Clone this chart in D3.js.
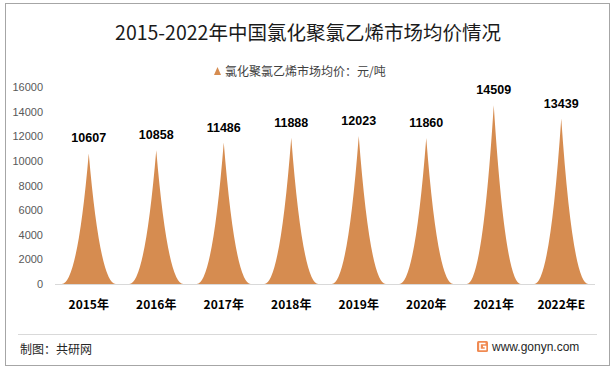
<!DOCTYPE html>
<html lang="zh">
  <head>
    <meta charset="UTF-8" />
    <title>2015-2022年中国氯化聚氯乙烯市场均价情况</title>
    <script src="https://cdnjs.cloudflare.com/ajax/libs/d3/7.8.5/d3.min.js"></script>
    <style>
      body {
        margin: 0;
        background: #fff;
      }
      text {
        font-family: "Noto Sans CJK SC", "Noto Sans", sans-serif;
      }
      .axis path,
      .axis line {
        display: none;
      }
      .y-axis text {
        font-size: 11px;
        fill: #595959;
        font-family: "Liberation Sans", "Noto Sans CJK SC", sans-serif;
      }
      .x-axis text {
        font-size: 12px;
        font-weight: bold;
        fill: #000;
      }
      .value-label {
        font-size: 12.5px;
        font-weight: bold;
        fill: #000;
        font-family: "Liberation Sans", sans-serif;
      }
    </style>
  </head>
  <body>
    <div id="chart"></div>
    <script>
      // data
      const years = ["2015年", "2016年", "2017年", "2018年", "2019年", "2020年", "2021年", "2022年E"];
      const prices = [10607, 10858, 11486, 11888, 12023, 11860, 14509, 13439];
      const yTicks = [0, 2000, 4000, 6000, 8000, 10000, 12000, 14000, 16000];

      const W = 615, H = 371;
      const color = "#D68C50";

      const svg = d3.select("#chart").append("svg")
        .attr("width", W)
        .attr("height", H);

      // outer frame
      svg.append("rect")
        .attr("x", 5.5).attr("y", 3.5)
        .attr("width", 604).attr("height", 362)
        .attr("fill", "#fff")
        .attr("stroke", "#a6a6a6")
        .attr("stroke-width", 1);

      // title
      svg.append("text")
        .attr("x", 308).attr("y", 40)
        .attr("text-anchor", "middle")
        .style("font-size", "19.5px")
        .style("fill", "#1a1a1a")
        .text("2015-2022年中国氯化聚氯乙烯市场均价情况");

      // legend
      const legend = svg.append("g").attr("transform", "translate(214,71)");
      legend.append("path")
        .attr("d", "M0,4 L3.5,-4 L7,4 Z")
        .attr("fill", color);
      legend.append("text")
        .attr("x", 11).attr("y", 4.5)
        .style("font-size", "12px")
        .style("fill", "#404040")
        .text("氯化聚氯乙烯市场均价：元/吨");

      // plot area
      const plot = { left: 55, right: 595, top: 87, bottom: 284 };

      const x = d3.scaleBand()
        .domain(years)
        .range([plot.left, plot.right])
        .paddingInner(0.2)
        .paddingOuter(0.1);

      const y = d3.scaleLinear()
        .domain([0, 16000])
        .range([plot.bottom, plot.top]);

      // y axis
      svg.append("g")
        .attr("class", "axis y-axis")
        .attr("transform", `translate(${plot.left - 6},0)`)
        .call(d3.axisLeft(y).tickValues(yTicks).tickFormat(d3.format("d")).tickSize(0).tickPadding(6));

      // spikes with concave sides
      function spike(d, i) {
        const x0 = x(years[i]);
        const w = x.bandwidth();
        const cx = x0 + w / 2;
        const y0 = y(0);
        const yt = y(d);
        const hw = w / 2;
        return `M${x0},${y0} Q${cx - hw * 0.42},${y0} ${cx},${yt} Q${cx + hw * 0.42},${y0} ${x0 + w},${y0} Z`;
      }

      svg.selectAll(".spike")
        .data(prices)
        .enter()
        .append("path")
        .attr("class", "spike")
        .attr("d", spike)
        .attr("fill", color);

      // baseline
      svg.append("line")
        .attr("x1", plot.left).attr("x2", plot.right)
        .attr("y1", y(0) + 0.5).attr("y2", y(0) + 0.5)
        .attr("stroke", "#d9d9d9");

      // value labels
      svg.selectAll(".value-label")
        .data(prices)
        .enter()
        .append("text")
        .attr("class", "value-label")
        .attr("x", (d, i) => x(years[i]) + x.bandwidth() / 2)
        .attr("y", (d) => y(d) - 11)
        .attr("text-anchor", "middle")
        .text((d) => d);

      // x axis
      svg.append("g")
        .attr("class", "axis x-axis")
        .attr("transform", `translate(0,${plot.bottom})`)
        .call(d3.axisBottom(x).tickSize(0).tickPadding(16));

      // footer
      svg.append("line")
        .attr("x1", 18).attr("x2", 597)
        .attr("y1", 334.5).attr("y2", 334.5)
        .attr("stroke", "#d9d9d9");

      svg.append("text")
        .attr("x", 20).attr("y", 354)
        .style("font-size", "12px")
        .style("fill", "#262626")
        .text("制图：共研网");

      const logo = svg.append("g").attr("transform", "translate(477,341)");
      logo.append("rect")
        .attr("width", 11).attr("height", 11)
        .attr("rx", 1.5)
        .attr("fill", "#F08A52");
      logo.append("path")
        .attr("d", "M8.5,2.5 H3 V8.5 H8.5 V5.5 H6")
        .attr("fill", "none")
        .attr("stroke", "#fff")
        .attr("stroke-width", 1.6);

      svg.append("text")
        .attr("x", 492).attr("y", 351)
        .style("font-size", "12px")
        .style("fill", "#262626")
        .style("font-family", "'Liberation Sans', sans-serif")
        .text("www.gonyn.com");
    </script>
  </body>
</html>
